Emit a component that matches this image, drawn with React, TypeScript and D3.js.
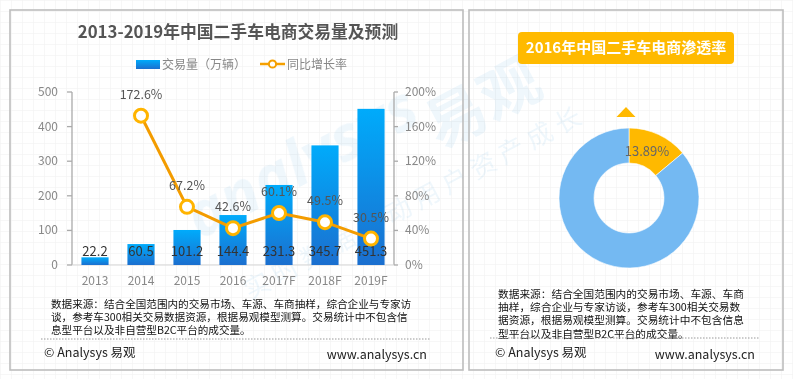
import React from "react";
import * as d3 from "d3";

const years = ["2013", "2014", "2015", "2016", "2017F", "2018F", "2019F"];
const volume = [22.2, 60.5, 101.2, 144.4, 231.3, 345.7, 451.3];
const growth: (number | null)[] = [null, 172.6, 67.2, 42.6, 60.1, 49.5, 30.5];
const leftTicks = [0, 100, 200, 300, 400, 500];
const rightTicks = [0, 40, 80, 120, 160, 200];
const penetration = [13.89, 100 - 13.89];
const pieColors = ["#ffb900", "#74b9f2"];

const leftNote = [
  "数据来源：结合全国范围内的交易市场、车源、车商抽样，综合企业与专家访",
  "谈，参考车300相关交易数据资源，根据易观模型测算。交易统计中不包含信",
  "息型平台以及非自营型B2C平台的成交量。",
];
const rightNote = [
  "数据来源：结合全国范围内的交易市场、车源、车商",
  "抽样，综合企业与专家访谈，参考车300相关交易数",
  "据资源，根据易观模型测算。交易统计中不包含信息",
  "型平台以及非自营型B2C平台的成交量。",
];

const FONT = "'Noto Sans CJK SC', 'Open Sans', sans-serif";

export default function App() {
  const W = 793, H = 379;
  const x = d3.scaleBand<string>().domain(years).range([72, 394]).paddingInner(0.41).paddingOuter(0.205);
  const yL = d3.scaleLinear().domain([0, 500]).range([265, 92]);
  const yR = d3.scaleLinear().domain([0, 200]).range([265, 92]);
  const cx = (d: string) => (x(d) as number) + x.bandwidth() / 2;

  const linePts = years
    .map((y, i) => ({ y, v: growth[i] }))
    .filter((d) => d.v !== null) as { y: string; v: number }[];
  const line = d3
    .line<{ y: string; v: number }>()
    .x((d) => cx(d.y))
    .y((d) => yR(d.v));

  const pie = d3.pie<number>().sort(null)(penetration);
  const arc = d3.arc<d3.PieArcDatum<number>>().innerRadius(35).outerRadius(70);
  const pcx = 629, pcy = 198;
  const labelArc = d3.arc<d3.PieArcDatum<number>>().innerRadius(52).outerRadius(52);
  const lp = labelArc.centroid(pie[0]);

  return (
    <svg width={W} height={H} style={{ position: "absolute", left: 0, top: 0, fontFamily: FONT }}>
      <defs>
        <pattern id="grid" width="11" height="11" patternUnits="userSpaceOnUse">
          <path d="M 11 0 L 0 0 0 11" fill="none" stroke="#f0f0f0" strokeWidth="1" />
        </pattern>
        <linearGradient id="barGrad" x1="0" y1="0" x2="0" y2="1">
          <stop offset="0" stopColor="#00abfb" />
          <stop offset="1" stopColor="#1b6fcf" />
        </linearGradient>
        <linearGradient id="legGrad" x1="0" y1="0" x2="0" y2="1">
          <stop offset="0" stopColor="#00abfb" />
          <stop offset="1" stopColor="#1b6fcf" />
        </linearGradient>
      </defs>
      <rect width={W} height={H} fill="#fff" />
      <rect width={W} height={H} fill="url(#grid)" />

      {/* watermark */}
      <g opacity={0.08} fill="#3a9ad9">
        <text x={200} y={240} fontSize={62} fontStyle="italic" fontWeight="bold" transform="rotate(-28 200 240)" fontFamily="'Open Sans', sans-serif">
          analysys
        </text>
        <text x={440} y={150} fontSize={60} fontWeight="bold" transform="rotate(-28 440 150)">
          易观
        </text>
        <text x={250} y={300} fontSize={26} transform="rotate(-28 250 300)" letterSpacing={6}>
          实时数据驱动用户资产成长
        </text>
      </g>

      {/* panels */}
      <rect x={10} y={10} width={453} height={360} fill="none" stroke="#bdbdbd" strokeWidth={1.6} />
      <rect x={469} y={10} width={314} height={360} fill="none" stroke="#bdbdbd" strokeWidth={1.6} />

      {/* left title */}
      <text x={238} y={38} textAnchor="middle" fontSize={16.8} fontWeight="bold" fill="#555">
        2013-2019年中国二手车电商交易量及预测
      </text>

      {/* legend */}
      <rect x={136} y={60} width={24} height={9} fill="url(#legGrad)" />
      <text x={162} y={69} fontSize={12} fill="#888">交易量（万辆）</text>
      <line x1={260} y1={64} x2={285} y2={64} stroke="#f5a000" strokeWidth={2.5} />
      <circle cx={272.5} cy={64} r={3.6} fill="#fff" stroke="#f5a000" strokeWidth={2} />
      <text x={287} y={69} fontSize={12} fill="#888">同比增长率</text>

      {/* axes */}
      <line x1={72} y1={92} x2={72} y2={265} stroke="#aaa" strokeWidth={1.3} />
      {leftTicks.map((t) => (
        <g key={"l" + t}>
          <line x1={67} x2={72} y1={yL(t)} y2={yL(t)} stroke="#aaa" strokeWidth={1.3} />
          <text x={58} y={yL(t) + 4} textAnchor="end" fontSize={12} fill="#888">{t}</text>
        </g>
      ))}
      <line x1={394} y1={92} x2={394} y2={265} stroke="#aaa" strokeWidth={1.3} />
      {rightTicks.map((t) => (
        <g key={"r" + t}>
          <line x1={394} x2={398} y1={yR(t)} y2={yR(t)} stroke="#aaa" strokeWidth={1.3} />
          <text x={405} y={yR(t) + 4} fontSize={12} fill="#888">{t}%</text>
        </g>
      ))}
      <line x1={72} y1={265} x2={394} y2={265} stroke="#d5d5d5" strokeWidth={1} />

      {/* bars */}
      {years.map((y, i) => (
        <g key={y}>
          <rect x={x(y)} y={yL(volume[i])} width={x.bandwidth()} height={265 - yL(volume[i])} fill="url(#barGrad)" />
          <text x={cx(y)} y={285} textAnchor="middle" fontSize={12} fill="#888">{y}</text>
          <text x={cx(y)} y={256} textAnchor="middle" fontSize={13} fill="#333">{volume[i].toFixed(1)}</text>
        </g>
      ))}

      {/* line */}
      <path d={line(linePts) || ""} fill="none" stroke="#f39c00" strokeWidth={3} />
      {linePts.map((d) => (
        <g key={"p" + d.y}>
          <circle cx={cx(d.y)} cy={yR(d.v)} r={6.5} fill="#fff" stroke="#ffb400" strokeWidth={3} />
          <text x={cx(d.y)} y={yR(d.v) - 17} textAnchor="middle" fontSize={12.5} fill="#555">{d.v.toFixed(1)}%</text>
        </g>
      ))}

      {/* left note */}
      {leftNote.map((l, i) => (
        <text key={"ln" + i} x={51} y={308 + i * 13.2} fontSize={10.6} fill="#111">{l}</text>
      ))}
      <line x1={41} x2={430} y1={339} y2={339} stroke="#999" strokeWidth={1} strokeDasharray="1.5 1.5" />
      <text x={44} y={357} fontSize={12.5} fill="#222">© Analysys 易观</text>
      <text x={427} y={359} textAnchor="end" fontSize={12.5} fill="#222">www.analysys.cn</text>

      {/* right panel */}
      <rect x={518} y={32} width={216} height={32} rx={4} fill="#ffba00" />
      <text x={626} y={53} textAnchor="middle" fontSize={15} fontWeight="bold" fill="#fff">
        2016年中国二手车电商渗透率
      </text>
      <path d="M626 107 L635.5 117 L616.5 117 Z" fill="#ffb900" />
      <g transform={`translate(${pcx},${pcy})`}>
        {pie.map((p, i) => (
          <path key={"a" + i} d={arc(p) || ""} fill={pieColors[i]} stroke="#fff" strokeWidth={0.6} />
        ))}
        <text x={lp[0] - 4} y={lp[1] + 5} textAnchor="middle" fontSize={13} fill="#666">
          13.89%
        </text>
      </g>

      {rightNote.map((l, i) => (
        <text key={"rn" + i} x={498} y={298 + i * 13.2} fontSize={10.7} fill="#111">{l}</text>
      ))}
      <line x1={490} x2={759} y1={338} y2={338} stroke="#999" strokeWidth={1} strokeDasharray="1.5 1.5" />
      <text x={495} y={357} fontSize={12.5} fill="#222">© Analysys 易观</text>
      <text x={755} y={359} textAnchor="end" fontSize={12.5} fill="#222">www.analysys.cn</text>
    </svg>
  );
}
